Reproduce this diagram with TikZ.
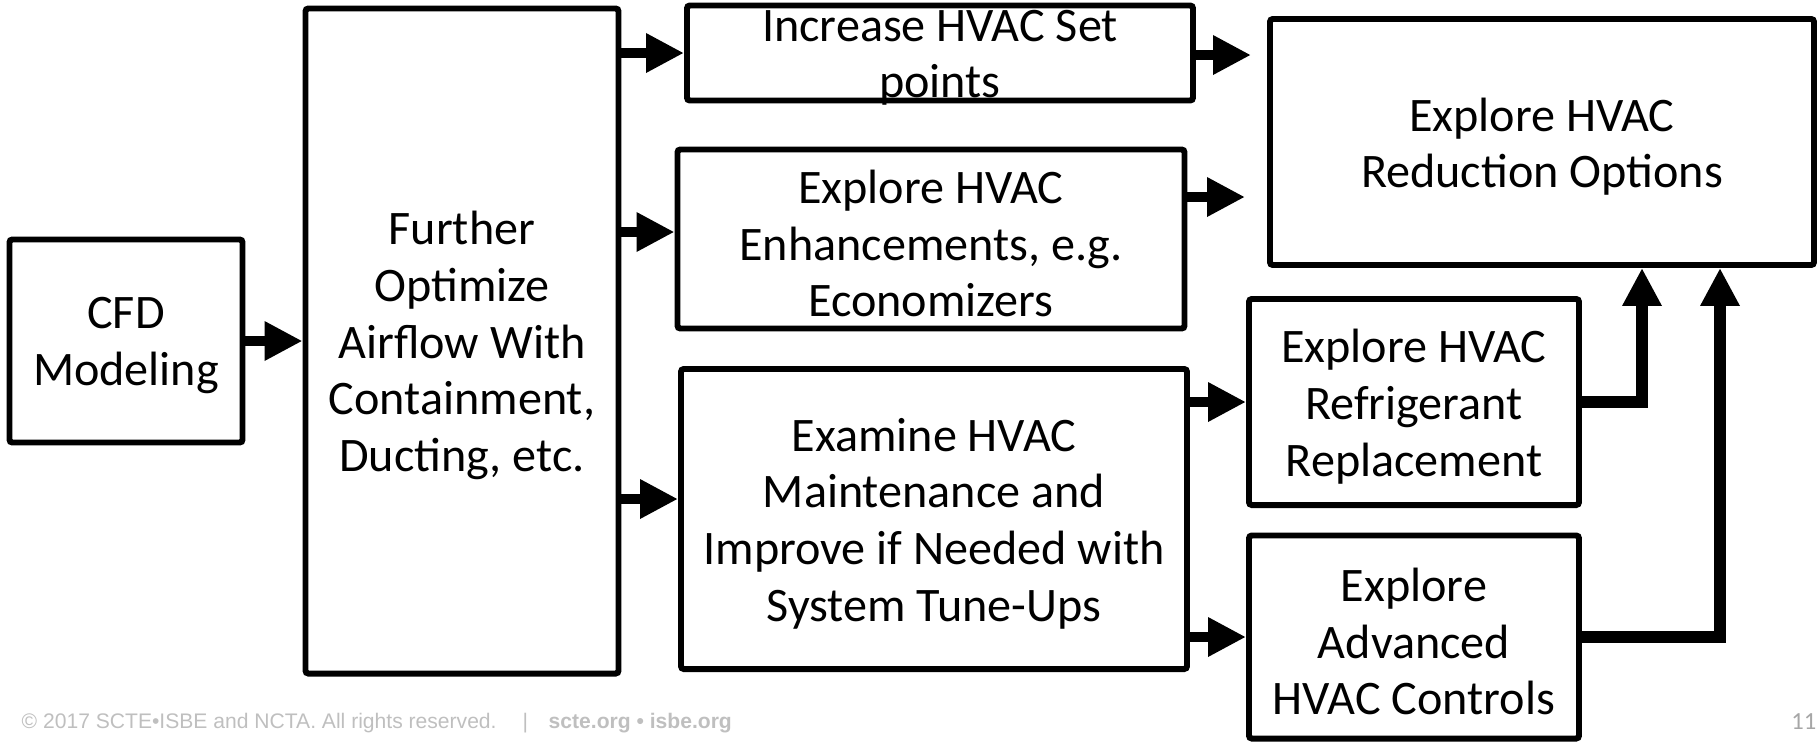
\documentclass[tikz,border=0pt]{standalone}
\usepackage{fontspec}
\setmainfont{Carlito}
\newfontfamily\footfont{Liberation Sans}
\usepackage{xcolor}
\usetikzlibrary{arrows.meta, positioning, calc}
\definecolor{footgray}{RGB}{191,191,191}
\definecolor{pagegray}{RGB}{166,166,166}

\begin{document}
\begin{tikzpicture}[
    box/.style={draw, line width=1.7pt, inner sep=0pt, rounded corners=0.8pt},
    boxtext/.style={align=center, yshift=-1.3pt, font=\fontsize{13.7}{16.1}\selectfont},
    flow/.style={draw, line width=3pt, -{Triangle[length=0.38cm, width=0.37cm]}},
    elbow/.style={flow, line width=3.4pt},
    foot/.style={inner sep=0pt, anchor=base west, text=footgray, font=\footfont\fontsize{6}{7}\selectfont}
]
    \useasboundingbox (0,0) rectangle (18.2,-7.41);

    \node[box, minimum width=2.33cm, minimum height=2.03cm, label={[boxtext]center:CFD\\Modeling}] (cfd) at (1.26,-3.41) {};
    \node[box, minimum width=3.13cm, minimum height=6.65cm,
          label={[boxtext]center:Further\\Optimize\\Airflow With\\Containment,\\Ducting, etc.}] (further) at (4.62,-3.41) {};
    \node[box, minimum width=5.06cm, minimum height=0.95cm, label={[boxtext]center:Increase HVAC Set\\points}] (setpts) at (9.40,-0.53) {};
    \node[box, minimum width=5.07cm, minimum height=1.79cm,
          label={[boxtext]center:Explore HVAC\\Enhancements, e.g.\\Economizers}] (enhance) at (9.31,-2.39) {};
    \node[box, minimum width=5.06cm, minimum height=3.00cm,
          label={[boxtext]center:Examine HVAC\\Maintenance and\\Improve if Needed with\\System Tune-Ups}] (examine) at (9.34,-5.19) {};
    \node[box, minimum width=3.30cm, minimum height=2.06cm,
          label={[boxtext]center:Explore HVAC\\Refrigerant\\Replacement}] (refrig) at (14.14,-4.02) {};
    \node[box, minimum width=3.30cm, minimum height=2.03cm,
          label={[boxtext]center:Explore\\Advanced\\HVAC Controls}] (controls) at (14.14,-6.37) {};
    \node[box, minimum width=5.44cm, minimum height=2.46cm,
          label={[boxtext]center:Explore HVAC\\Reduction Options}] (reduce) at (15.42,-1.42) {};

    % open-ended arrows pointing at the reduction box
    \coordinate (setptsout)  at (12.51,-0.55);
    \coordinate (enhanceout) at (12.45,-1.97);

    \draw[flow] (cfd) -- (further);
    \draw[flow] (setpts.west -| further.east) -- (setpts.west);
    \draw[flow] ([yshift=0.07cm]enhance.west -| further.east) -- ([yshift=0.07cm]enhance.west);
    \draw[flow] ([yshift=0.2cm]examine.west -| further.east) -- ([yshift=0.2cm]examine.west);
    \draw[flow] (refrig.west -| examine.east) -- (refrig.west);
    \draw[flow] (controls.west -| examine.east) -- (controls.west);
    \draw[flow] (setpts.east |- setptsout) -- (setptsout);
    \draw[flow] (enhance.east |- enhanceout) -- (enhanceout);
    \draw[elbow] (refrig.east) -| ([xshift=3.75cm]reduce.south west);
    \draw[elbow] (controls.east) -| ([xshift=4.53cm]reduce.south west);

    % footer line
    \node[foot] (copyright) at (0.21,-7.28) {© 2017 SCTE•ISBE and NCTA. All rights reserved.};
    \node[foot] (sep)       at (5.22,-7.28) {|};
    \node[foot] (sites)     at (5.48,-7.28) {\bfseries scte.org • isbe.org};
    \node[inner sep=0pt, anchor=base east, text=pagegray, font=\fontsize{7}{8}\selectfont] (pagenum) at (18.17,-7.29) {11};
\end{tikzpicture}
\end{document}
